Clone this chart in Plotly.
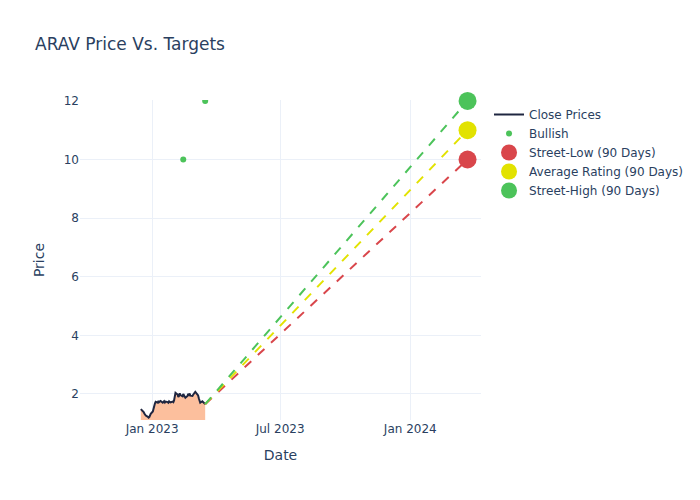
import pandas as pd
import plotly.graph_objects as go

# ARAV close prices, one value per business day from 2022-12-16
close_values = [
    1.48,
    1.42, 1.38, 1.33, 1.30, 1.26,
    1.22, 1.19, 1.21, 1.27, 1.32,
    1.40, 1.53, 1.60, 1.68, 1.73,
    1.70, 1.76, 1.72, 1.74, 1.76,
    1.70, 1.73, 1.75, 1.71, 1.74,
    1.72, 1.70, 1.75, 1.73, 1.71,
    1.74, 1.72, 1.78, 1.95, 2.04,
    1.98, 1.90, 1.93, 2.02, 1.96,
    1.92, 2.00, 1.95, 1.88, 1.87,
    1.93, 2.00, 1.97, 2.01, 1.94,
    1.93, 1.97, 1.99, 2.04, 2.07,
    1.98, 1.95, 1.85, 1.72, 1.70,
    1.75, 1.73, 1.68, 1.66, 1.65,
]
close_dates = pd.bdate_range("2022-12-16", periods=len(close_values))

# analyst ratings
bullish_dates = ["2023-02-14", "2023-03-17"]
bullish_targets = [10, 12]

# 90 day targets
target_date = "2024-03-22"
target_names = ["Street-Low (90 Days)", "Average Rating (90 Days)", "Street-High (90 Days)"]
target_values = [10, 11, 12]
target_colors = ["#d9464b", "#e2e200", "#4cc35a"]

last_date = close_dates[-1]
last_close = close_values[-1]

fig = go.Figure()

# area under the price (kept out of the legend)
fig.add_trace(go.Scatter(
    x=close_dates, y=close_values, mode="lines", showlegend=False,
    line=dict(width=0), fill="tozeroy", fillcolor="#fcbf9d", hoverinfo="skip",
))

fig.add_trace(go.Scatter(
    x=close_dates, y=close_values, mode="lines", name="Close Prices",
    line=dict(color="#1f2640", width=2),
))

fig.add_trace(go.Scatter(
    x=bullish_dates, y=bullish_targets, mode="markers", name="Bullish",
    marker=dict(color="#4cc35a", size=6),
))

# dashed lines from last close to each target
for name, val, col in zip(target_names, target_values, target_colors):
    fig.add_trace(go.Scatter(
        x=[last_date, target_date], y=[last_close, val], mode="lines",
        line=dict(color=col, width=2, dash="dash"), showlegend=False,
        hoverinfo="skip",
    ))

for name, val, col in zip(target_names, target_values, target_colors):
    fig.add_trace(go.Scatter(
        x=[target_date], y=[val], mode="markers", name=name,
        marker=dict(color=col, size=18), cliponaxis=False,
    ))

# page body has an 8px margin, so size/margins are shifted to compensate
fig.update_layout(
    template="plotly_white",
    width=692, height=492,
    margin=dict(l=72, t=92, b=80),
    font=dict(family="DejaVu Sans"),
    title=dict(text="ARAV Price Vs. Targets", x=27 / 692, y=1 - 36 / 492,
               xanchor="left", yanchor="middle"),
    xaxis_title="Date",
    yaxis_title="Price",
)
fig.update_xaxes(range=["2022-09-21", "2024-04-10"])
fig.update_yaxes(range=[1.11, 12.03])

fig.write_html("out.html")
